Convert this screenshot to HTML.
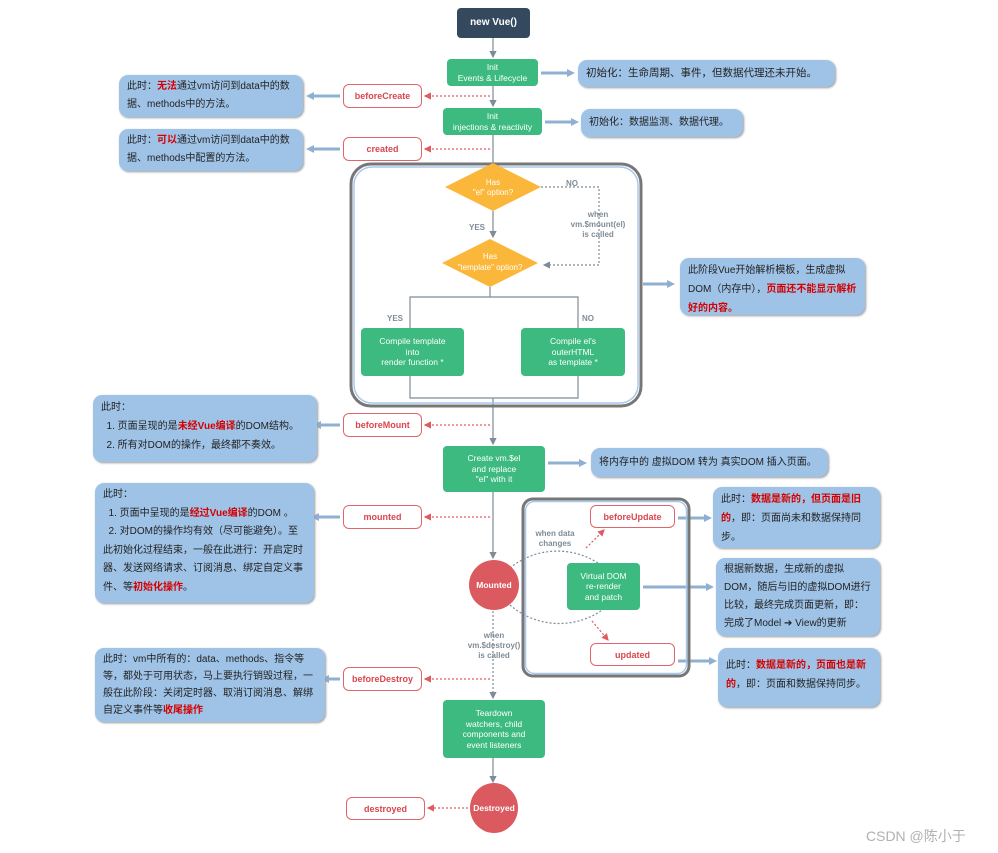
<!DOCTYPE html>
<html><head><meta charset="utf-8"><style>
body{margin:0;width:998px;height:853px;background:#fff;position:relative;overflow:hidden;font-family:"Liberation Sans","Noto Sans CJK SC",sans-serif;}
.a{position:absolute;box-sizing:border-box;}
.g{background:#3cba7f;color:#fff;border-radius:4px;font-size:8.5px;text-align:center;display:flex;align-items:center;justify-content:center;line-height:10.5px;}
.h{background:#fff;border:1.3px solid #e0666c;color:#d9464e;border-radius:6px;font-size:9px;font-weight:bold;text-align:center;display:flex;align-items:center;justify-content:center;}
.b{background:#9fc3e7;border-radius:9px;color:#222;font-size:10px;line-height:19px;padding:3px 8px;box-shadow:1px 1px 2px #999;}
.r{color:#d40000;font-weight:bold;}
.c{background:#db5a60;color:#fff;border-radius:50%;font-size:8.5px;font-weight:bold;display:flex;align-items:center;justify-content:center;}
.t{position:absolute;color:#7f8c98;font-size:8px;font-weight:bold;text-align:center;line-height:10px;}
</style></head><body>
<svg class="a" style="left:0;top:0" width="998" height="853">
<defs>
<marker id="ar" markerWidth="6" markerHeight="6" refX="5" refY="3" orient="auto"><path d="M0,0L6,3L0,6z" fill="#7f8c98"/></marker>
<marker id="rr" markerWidth="6" markerHeight="6" refX="5" refY="3" orient="auto"><path d="M0,0L6,3L0,6z" fill="#e05a60"/></marker>
</defs>
<g stroke="#7f8c98" stroke-width="1.2" fill="none">
<line x1="493" y1="38" x2="493" y2="57" marker-end="url(#ar)"/>
<line x1="493" y1="86" x2="493" y2="106" marker-end="url(#ar)"/>
<line x1="493" y1="135" x2="493" y2="163"/>
<line x1="493" y1="211" x2="493" y2="237" marker-end="url(#ar)"/>
<line x1="490" y1="287" x2="490" y2="297"/>
<polyline points="410,328 410,297 578,297 578,328"/>
<polyline points="410,376 410,398 578,398 578,376"/>
<line x1="493" y1="398" x2="493" y2="444" marker-end="url(#ar)"/>
<line x1="493" y1="492" x2="493" y2="558" marker-end="url(#ar)"/>
<line x1="493" y1="758" x2="493" y2="782" marker-end="url(#ar)"/>
<g stroke-dasharray="2,2">
<polyline points="541,187 599,187 599,265 544,265" marker-end="url(#ar)"/>
<line x1="493" y1="611" x2="493" y2="698" marker-end="url(#ar)"/>
<path d="M510,568 A75,75 0 0 1 598,563"/>
<path d="M510,605 A75,75 0 0 0 605,608"/>
</g>
</g>
<g stroke="#e05a60" stroke-width="1.2" fill="none" stroke-dasharray="2,2">
<line x1="490" y1="96" x2="425" y2="96" marker-end="url(#rr)"/>
<line x1="490" y1="149" x2="425" y2="149" marker-end="url(#rr)"/>
<line x1="490" y1="425" x2="425" y2="425" marker-end="url(#rr)"/>
<line x1="490" y1="517" x2="425" y2="517" marker-end="url(#rr)"/>
<line x1="490" y1="679" x2="425" y2="679" marker-end="url(#rr)"/>
<line x1="468" y1="808" x2="428" y2="808" marker-end="url(#rr)"/>
<line x1="586" y1="548" x2="604" y2="530" marker-end="url(#rr)"/>
<line x1="592" y1="621" x2="608" y2="640" marker-end="url(#rr)"/>
</g>
<g stroke="#8fb0d0" stroke-width="3" fill="none">
<line x1="541" y1="73" x2="568" y2="73"/><line x1="545" y1="122" x2="572" y2="122"/>
<line x1="340" y1="96" x2="313" y2="96"/><line x1="340" y1="149" x2="313" y2="149"/>
<line x1="643" y1="284" x2="668" y2="284"/><line x1="340" y1="425" x2="320" y2="425"/>
<line x1="548" y1="463" x2="580" y2="463"/><line x1="340" y1="517" x2="318" y2="517"/>
<line x1="678" y1="518" x2="705" y2="518"/><line x1="643" y1="587" x2="707" y2="587"/>
<line x1="678" y1="661" x2="710" y2="661"/><line x1="340" y1="679" x2="328" y2="679"/>
</g>
<g fill="#8fb0d0">
<path d="M567,69L575,73L567,77z"/><path d="M571,118L579,122L571,126z"/>
<path d="M314,92L306,96L314,100z"/><path d="M314,145L306,149L314,153z"/>
<path d="M667,280L675,284L667,288z"/><path d="M321,421L313,425L321,429z"/>
<path d="M579,459L587,463L579,467z"/><path d="M319,513L311,517L319,521z"/>
<path d="M704,514L712,518L704,522z"/><path d="M706,583L714,587L706,591z"/>
<path d="M709,657L717,661L709,665z"/><path d="M329,675L321,679L329,683z"/>
</g>
<rect x="351" y="164" width="290" height="242" rx="20" fill="none" stroke="#777" stroke-width="3"/>
<rect x="354" y="167" width="284" height="236" rx="18" fill="none" stroke="#a8c8ea" stroke-width="1.5"/>
<rect x="523" y="499" width="166" height="177" rx="10" fill="none" stroke="#777" stroke-width="3"/>
<rect x="525.5" y="501.5" width="161" height="172" rx="9" fill="none" stroke="#a8c8ea" stroke-width="1.5"/>
<path d="M493,163L541,187L493,211L445,187z" fill="#fbb73a"/>
<path d="M490,239L538,263L490,287L442,263z" fill="#fbb73a"/>
<text x="493" y="185" font-size="8" fill="#fff" text-anchor="middle" font-family="Liberation Sans">Has</text>
<text x="493" y="195" font-size="8" fill="#fff" text-anchor="middle" font-family="Liberation Sans">"el" option?</text>
<text x="490" y="259" font-size="8" fill="#fff" text-anchor="middle" font-family="Liberation Sans">Has</text>
<text x="490" y="270" font-size="8" fill="#fff" text-anchor="middle" font-family="Liberation Sans">"template" option?</text>
</svg>

<div class="a g" style="left:457px;top:8px;width:73px;height:30px;background:#34495e;font-size:10px;font-weight:bold;">new Vue()</div>
<div class="a g" style="left:447px;top:59px;width:91px;height:27px;">Init<br>Events &amp; Lifecycle</div>
<div class="a g" style="left:443px;top:108px;width:99px;height:27px;">Init<br>injections &amp; reactivity</div>
<div class="a g" style="left:361px;top:328px;width:103px;height:48px;">Compile template<br>into<br>render function *</div>
<div class="a g" style="left:521px;top:328px;width:104px;height:48px;">Compile el's<br>outerHTML<br>as template *</div>
<div class="a g" style="left:443px;top:446px;width:102px;height:46px;">Create vm.$el<br>and replace<br>"el" with it</div>
<div class="a g" style="left:567px;top:563px;width:73px;height:47px;">Virtual DOM<br>re-render<br>and patch</div>
<div class="a g" style="left:443px;top:700px;width:102px;height:58px;">Teardown<br>watchers, child<br>components and<br>event listeners</div>

<div class="a c" style="left:469px;top:560px;width:50px;height:50px;">Mounted</div>
<div class="a c" style="left:470px;top:783px;width:48px;height:50px;">Destroyed</div>

<div class="a h" style="left:343px;top:84px;width:79px;height:24px;">beforeCreate</div>
<div class="a h" style="left:343px;top:137px;width:79px;height:24px;">created</div>
<div class="a h" style="left:343px;top:413px;width:79px;height:24px;">beforeMount</div>
<div class="a h" style="left:343px;top:505px;width:79px;height:24px;">mounted</div>
<div class="a h" style="left:343px;top:667px;width:79px;height:24px;">beforeDestroy</div>
<div class="a h" style="left:346px;top:797px;width:79px;height:23px;">destroyed</div>
<div class="a h" style="left:590px;top:505px;width:85px;height:23px;">beforeUpdate</div>
<div class="a h" style="left:590px;top:643px;width:85px;height:23px;">updated</div>

<div class="t" style="left:566px;top:179px;">NO</div>
<div class="t" style="left:556px;top:210px;width:84px;">when<br>vm.$mount(el)<br>is called</div>
<div class="t" style="left:469px;top:223px;">YES</div>
<div class="t" style="left:387px;top:314px;">YES</div>
<div class="t" style="left:582px;top:314px;">NO</div>
<div class="t" style="left:525px;top:529px;width:60px;">when data<br>changes</div>
<div class="t" style="left:458px;top:631px;width:72px;">when<br>vm.$destroy()<br>is called</div>

<div class="a b" style="left:578px;top:60px;width:257px;height:27px;line-height:21px;font-size:10.5px;white-space:nowrap;">初始化：生命周期、事件，但数据代理还未开始。</div>
<div class="a b" style="left:581px;top:109px;width:162px;height:28px;line-height:22px;white-space:nowrap;">初始化：数据监测、数据代理。</div>
<div class="a b" style="left:119px;top:75px;width:184px;height:42px;line-height:18px;">此时：<span class="r">无法</span>通过vm访问到data中的数据、methods中的方法。</div>
<div class="a b" style="left:119px;top:129px;width:184px;height:42px;line-height:18px;">此时：<span class="r">可以</span>通过vm访问到data中的数据、methods中配置的方法。</div>
<div class="a b" style="left:680px;top:258px;width:185px;height:57px;">此阶段Vue开始解析模板，生成虚拟DOM（内存中），<span class="r">页面还不能显示解析好的内容。</span></div>
<div class="a b" style="left:93px;top:395px;width:224px;height:67px;">此时：<br>&nbsp;&nbsp;1. 页面呈现的是<span class="r">未经Vue编译</span>的DOM结构。<br>&nbsp;&nbsp;2. 所有对DOM的操作，最终都不奏效。</div>
<div class="a b" style="left:591px;top:448px;width:237px;height:29px;line-height:23px;">将内存中的 虚拟DOM 转为 真实DOM 插入页面。</div>
<div class="a b" style="left:95px;top:483px;width:219px;height:120px;line-height:18.5px;">此时：<br>&nbsp;&nbsp;1. 页面中呈现的是<span class="r">经过Vue编译</span>的DOM 。<br>&nbsp;&nbsp;2. 对DOM的操作均有效（尽可能避免）。至此初始化过程结束，一般在此进行：开启定时器、发送网络请求、订阅消息、绑定自定义事件、等<span class="r">初始化操作</span>。</div>
<div class="a b" style="left:713px;top:487px;width:167px;height:61px;">此时：<span class="r">数据是新的，但页面是旧的</span>，即：页面尚未和数据保持同步。</div>
<div class="a b" style="left:716px;top:558px;width:164px;height:78px;line-height:18px;">根据新数据，生成新的虚拟DOM，随后与旧的虚拟DOM进行比较，最终完成页面更新，即：完成了Model ➔ View的更新</div>
<div class="a b" style="left:718px;top:648px;width:162px;height:59px;padding-top:8px;">此时：<span class="r">数据是新的，页面也是新的</span>，即：页面和数据保持同步。</div>
<div class="a b" style="left:95px;top:648px;width:230px;height:74px;line-height:17px;">此时：vm中所有的：data、methods、指令等等，都处于可用状态，马上要执行销毁过程，一般在此阶段：关闭定时器、取消订阅消息、解绑自定义事件等<span class="r">收尾操作</span></div>

<div class="a" style="left:866px;top:826px;font-size:14px;color:#b0b0b0;">CSDN @陈小于</div>
</body></html>
